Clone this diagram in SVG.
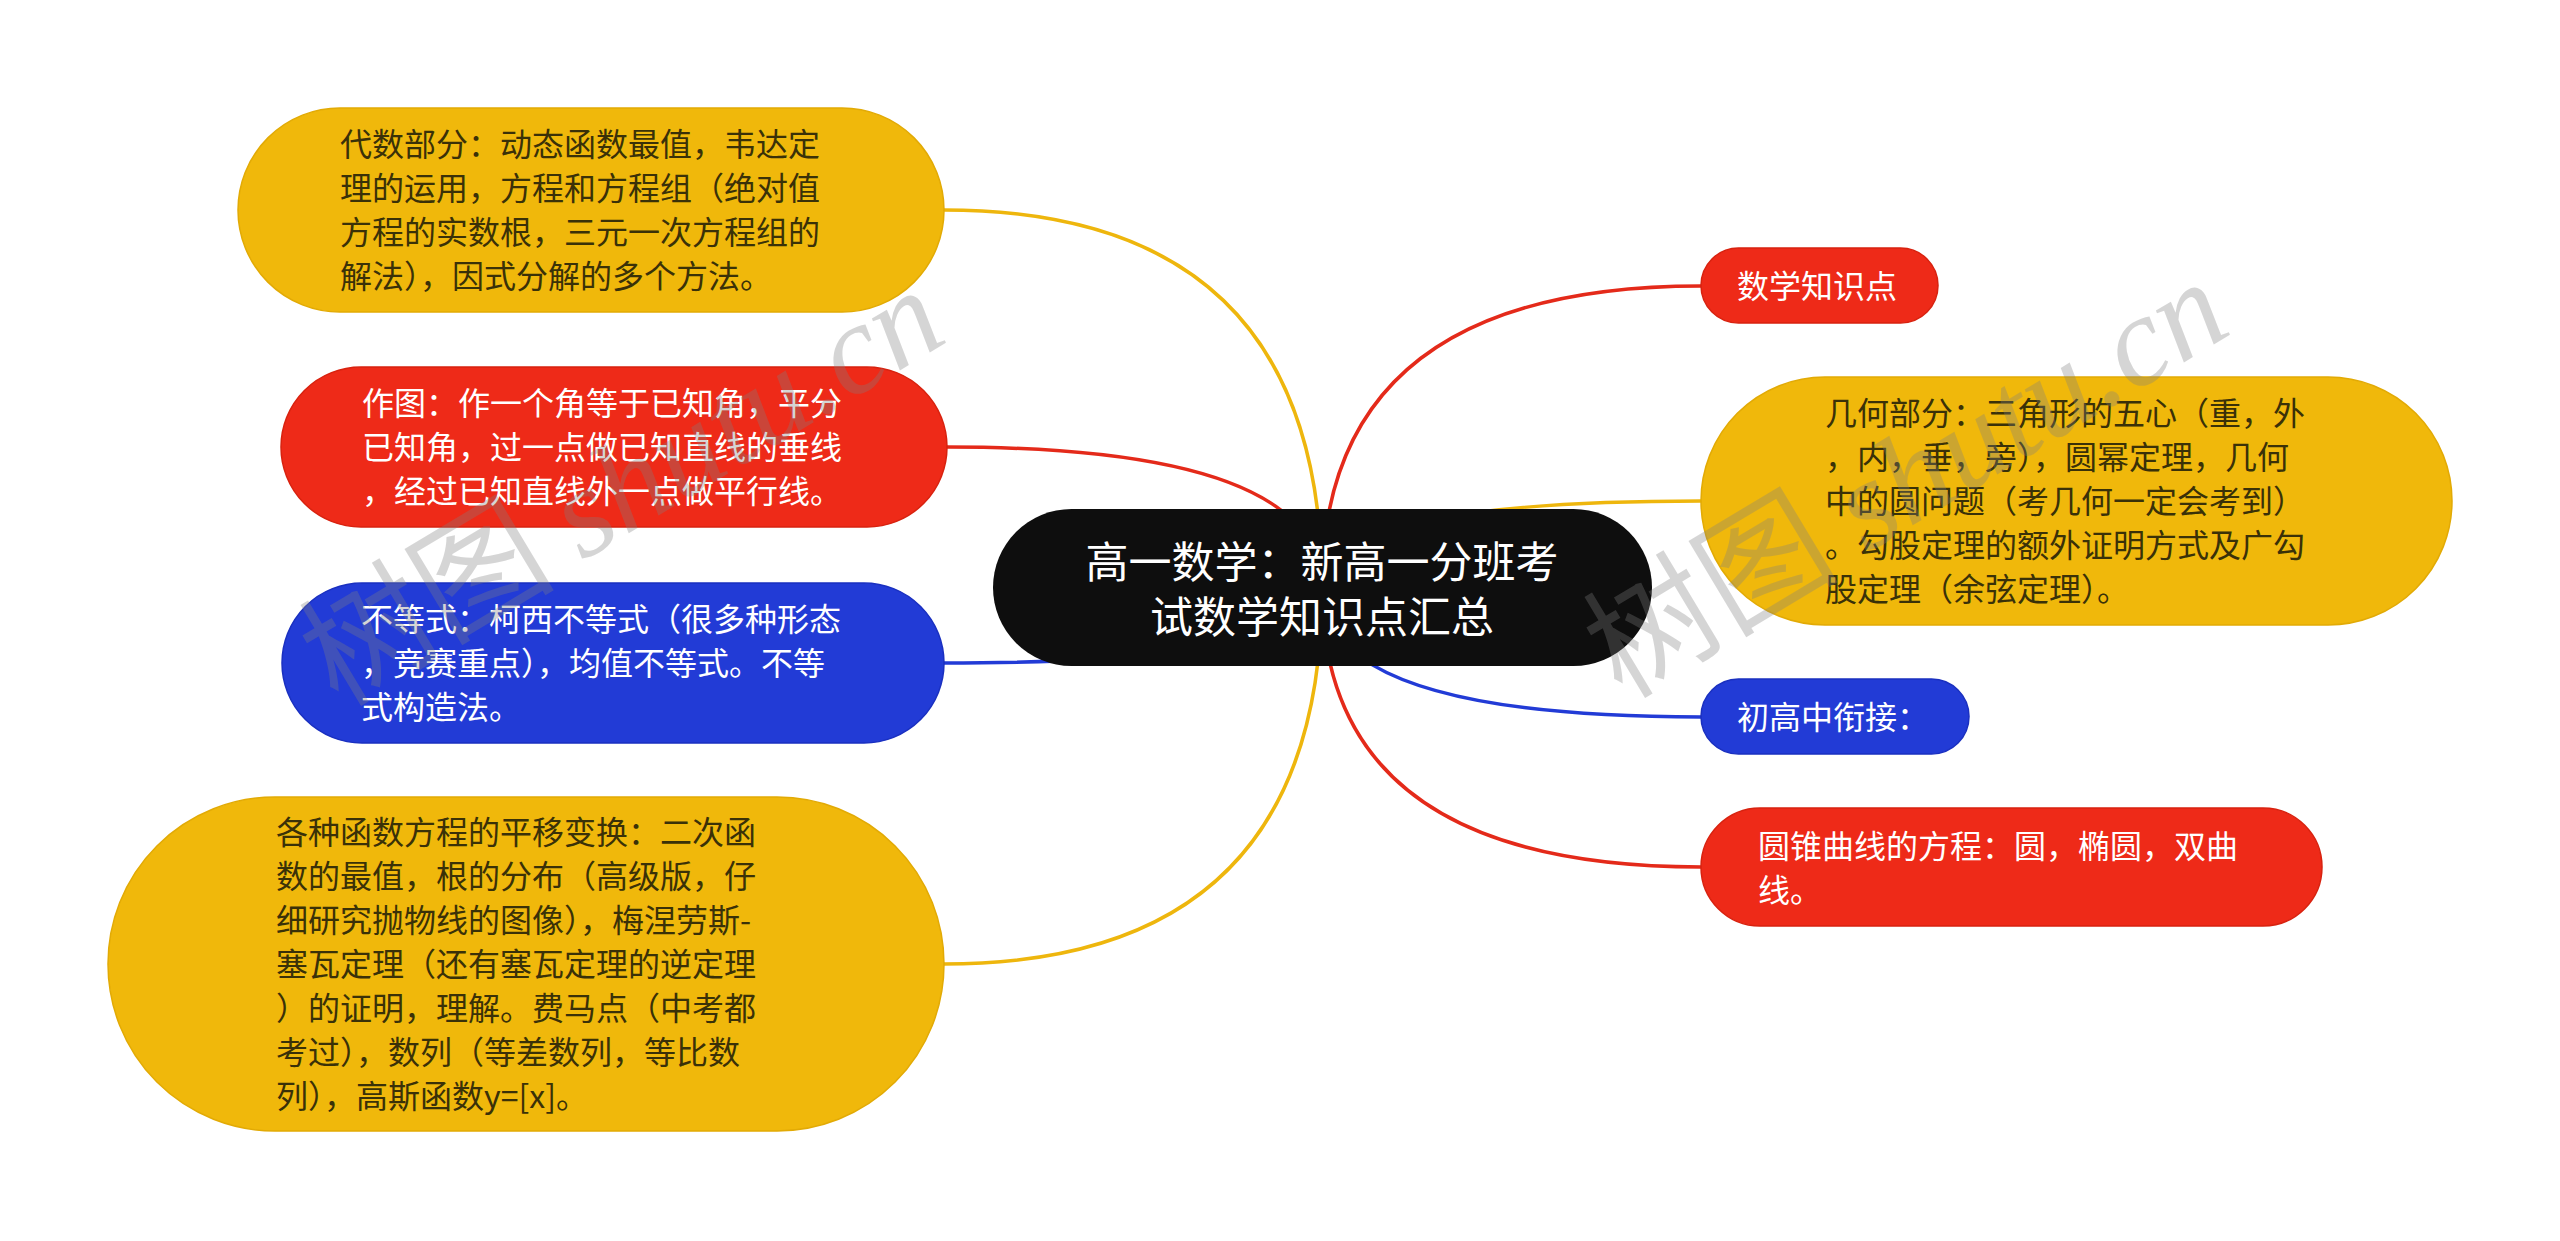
<svg xmlns="http://www.w3.org/2000/svg" width="2560" height="1241" viewBox="0 0 2560 1241">
<style>
.t{font-family:"Noto Sans CJK SC","Noto Sans",sans-serif;font-size:32px}
.dk{fill:#3a3108}
.wt{fill:#ffffff}
.y{fill:#F0B80B;stroke:#E2AA05;stroke-width:1.5}
.r{fill:#EE2A18;stroke:#D8220F;stroke-width:1.5}
.b{fill:#223BD6;stroke:#1A30C0;stroke-width:1.5}
.k{fill:#0E0E0E}
.c{fill:none;stroke-width:3.5}
.wm{fill:#808080;opacity:0.32;font-size:128px}
</style>
<rect width="2560" height="1241" fill="#ffffff"/>
<g id="connectors">
<path class="c" stroke="#EEB60D" d="M1322,588 Q1322,210 944,210"/>
<path class="c" stroke="#E42A1A" d="M1322,588 Q1322,447 947,447"/>
<path class="c" stroke="#223BD6" d="M1322,588 Q1322,663 944,663"/>
<path class="c" stroke="#EEB60D" d="M1322,588 Q1322,964 944,964"/>
<path class="c" stroke="#E42A1A" d="M1322,588 Q1322,286 1701,286"/>
<path class="c" stroke="#EEB60D" d="M1322,588 Q1322,501 1701,501"/>
<path class="c" stroke="#223BD6" d="M1322,588 Q1322,717 1701,717"/>
<path class="c" stroke="#E42A1A" d="M1322,588 Q1322,867 1701,867"/>
</g>
<g id="root">
<rect class="k" x="993" y="509" width="659" height="157" rx="78.5"/>
<text class="t wt" style="font-size:43px" text-anchor="middle" x="1322"><tspan x="1322" y="578">高一数学：新高一分班考</tspan><tspan x="1322" y="633">试数学知识点汇总</tspan></text>
</g>
<g id="n1">
<rect class="y" x="238" y="108" width="706" height="204" rx="102"/>
<text class="t dk"><tspan x="340" y="156">代数部分：动态函数最值，韦达定</tspan><tspan x="340" y="200">理的运用，方程和方程组（绝对值</tspan><tspan x="340" y="244">方程的实数根，三元一次方程组的</tspan><tspan x="340" y="288">解法），因式分解的多个方法。</tspan></text>
</g>
<g id="n2">
<rect class="r" x="281" y="367" width="666" height="160" rx="80"/>
<text class="t wt"><tspan x="362" y="415">作图：作一个角等于已知角，平分</tspan><tspan x="362" y="459">已知角，过一点做已知直线的垂线</tspan><tspan x="362" y="503">，经过已知直线外一点做平行线。</tspan></text>
</g>
<g id="n3">
<rect class="b" x="282" y="583" width="662" height="160" rx="80"/>
<text class="t wt"><tspan x="361" y="631">不等式：柯西不等式（很多种形态</tspan><tspan x="361" y="675">，竞赛重点），均值不等式。不等</tspan><tspan x="361" y="719">式构造法。</tspan></text>
</g>
<g id="n4">
<rect class="y" x="108" y="797" width="836" height="334" rx="167"/>
<text class="t dk"><tspan x="276" y="844">各种函数方程的平移变换：二次函</tspan><tspan x="276" y="888">数的最值，根的分布（高级版，仔</tspan><tspan x="276" y="932">细研究抛物线的图像），梅涅劳斯-</tspan><tspan x="276" y="976">塞瓦定理（还有塞瓦定理的逆定理</tspan><tspan x="276" y="1020">）的证明，理解。费马点（中考都</tspan><tspan x="276" y="1064">考过），数列（等差数列，等比数</tspan><tspan x="276" y="1108">列），高斯函数y=[x]。</tspan></text>
</g>
<g id="n5">
<rect class="r" x="1701" y="248" width="237" height="75" rx="37.5"/>
<text class="t wt" x="1737" y="298">数学知识点</text>
</g>
<g id="n6">
<rect class="y" x="1701" y="377" width="751" height="248" rx="124"/>
<text class="t dk"><tspan x="1825" y="425">几何部分：三角形的五心（重，外</tspan><tspan x="1825" y="469">，内，垂，旁），圆幂定理，几何</tspan><tspan x="1825" y="513">中的圆问题（考几何一定会考到）</tspan><tspan x="1825" y="557">。勾股定理的额外证明方式及广勾</tspan><tspan x="1825" y="601">股定理（余弦定理）。</tspan></text>
</g>
<g id="n7">
<rect class="b" x="1701" y="679" width="268" height="75" rx="37.5"/>
<text class="t wt" x="1737" y="729">初高中衔接：</text>
</g>
<g id="n8">
<rect class="r" x="1701" y="808" width="621" height="118" rx="59"/>
<text class="t wt"><tspan x="1758" y="858">圆锥曲线的方程：圆，椭圆，双曲</tspan><tspan x="1758" y="902">线。</tspan></text>
</g>
<g id="watermarks">
<text class="wm" transform="translate(338,708) rotate(-31)"><tspan style="font-family:'Noto Sans CJK SC',sans-serif">树图 </tspan><tspan style="font-family:'Liberation Serif',serif;font-style:italic">shutu.cn</tspan></text>
<text class="wm" transform="translate(1622,700) rotate(-31)"><tspan style="font-family:'Noto Sans CJK SC',sans-serif">树图 </tspan><tspan style="font-family:'Liberation Serif',serif;font-style:italic">shutu.cn</tspan></text>
</g>
</svg>
